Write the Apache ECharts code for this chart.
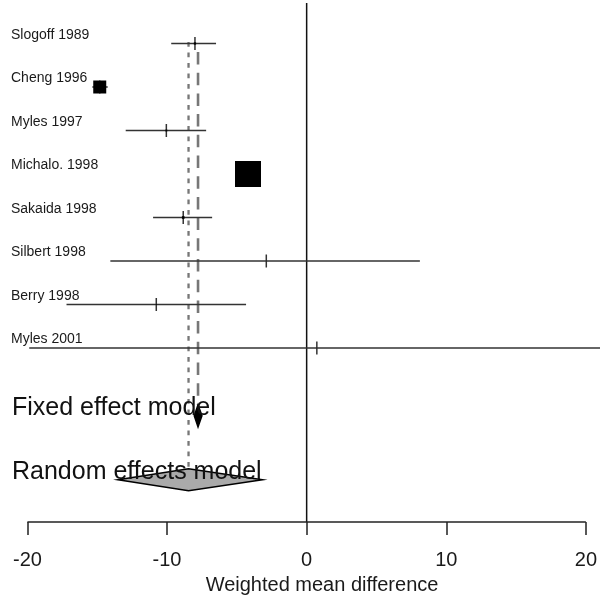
<!DOCTYPE html>
<html>
<head>
<meta charset="utf-8">
<script src="https://cdn.jsdelivr.net/npm/echarts@6/dist/echarts.min.js"></script>
<style>
html,body{margin:0;padding:0;background:#fff;}
#chart{width:600px;height:601px;}
</style>
</head>
<body>
<div id="chart"></div>
<script>
// ---- data ----
const studies = ["Slogoff 1989","Cheng 1996","Myles 1997","Michalo. 1998","Sakaida 1998","Silbert 1998","Berry 1998","Myles 2001"];
const means   = [-8.0, -14.82, -10.05, -4.2, -8.84, -2.89, -10.77, 0.73];
const lowers  = [-9.7, -15.35, -12.96, -4.9, -11.0, -14.06, -17.2, -19.87];
const uppers  = [-6.49, -14.25, -7.2, -3.5, -6.77, 8.11, -4.34, 21.3];
const weights = [0.6, 19.5, 0.4, 78, 0.8, 0.05, 0.1, 0.02];

const summaryNames  = ["Fixed effect model", "Random effects model"];
const summaryMeans  = [-7.78, -8.46];
const summaryLowers = [-8.05, -13.52];
const summaryUppers = [-7.5, -3.16];
const summaryRows   = [9.56, 11.03];

const xTicks = [-20, -10, 0, 10, 20];
const xTitle = "Weighted mean difference";

// ---- layout constants ----
const FONT = '"Liberation Sans", Arial, Helvetica, sans-serif';
const AXIS_ROW = 12;
const ZERO_TOP_ROW = 0.07;

const studyData = studies.map((n, i) => [means[i], i + 1, lowers[i], uppers[i], weights[i]]);
const summaryData = summaryNames.map((n, i) => [summaryMeans[i], summaryRows[i], summaryLowers[i], summaryUppers[i]]);

const chart = echarts.init(document.getElementById('chart'), null, {renderer: 'canvas'});

const option = {
  animation: false,
  backgroundColor: '#ffffff',
  title: {
    text: xTitle,
    left: 317,
    top: 570,
    textAlign: 'center',
    textStyle: {fontFamily: FONT, fontSize: 20, fontWeight: 'normal', color: '#1a1a1a'}
  },
  grid: {left: 0, right: 0, top: 0, height: 522, containLabel: false},
  xAxis: {
    type: 'value',
    position: 'bottom',
    min: -21.964,
    max: 20.893,
    axisLine: {show: false, onZero: false},
    splitLine: {show: false},
    axisTick: {show: true, customValues: xTicks, length: 13, lineStyle: {color: '#222', width: 1.5}},
    axisLabel: {show: true, customValues: xTicks, margin: 28, fontSize: 20, fontFamily: FONT, color: '#1a1a1a'}
  },
  yAxis: {
    type: 'value', inverse: true, min: 0, max: AXIS_ROW, show: false
  },
  series: [
    // fixed effect reference line (dashed)
    {
      type: 'custom',
      data: [[summaryMeans[0], summaryRows[0]]],
      renderItem: function (params, api) {
        const top = api.coord([api.value(0), 1]);
        const bot = api.coord([api.value(0), api.value(1)]);
        return {
          type: 'line',
          shape: {x1: top[0], y1: top[1] + 8.5, x2: bot[0], y2: bot[1] - 11},
          style: {stroke: '#777', lineWidth: 2.6, lineDash: [12.5, 8.2]}
        };
      },
      z: 1
    },
    // random effects reference line (dotted)
    {
      type: 'custom',
      data: [[summaryMeans[1], summaryRows[1]]],
      renderItem: function (params, api) {
        const top = api.coord([api.value(0), 1]);
        const bot = api.coord([api.value(0), api.value(1)]);
        return {
          type: 'line',
          shape: {x1: top[0], y1: top[1] - 1.5, x2: bot[0], y2: bot[1] - 11},
          style: {stroke: '#777', lineWidth: 2.3, lineDash: [4.7, 5.8]}
        };
      },
      z: 1
    },
    // zero line and x axis line
    {
      type: 'custom',
      data: [[0, ZERO_TOP_ROW]],
      renderItem: function (params, api) {
        const a = api.coord([0, api.value(1)]);
        const b = api.coord([0, AXIS_ROW]);
        const l = api.coord([xTicks[0], AXIS_ROW]);
        const r = api.coord([xTicks[xTicks.length - 1], AXIS_ROW]);
        return {
          type: 'group',
          children: [
            {type: 'line', shape: {x1: a[0], y1: a[1], x2: b[0], y2: b[1]}, style: {stroke: '#111', lineWidth: 1.5}},
            {type: 'line', shape: {x1: l[0], y1: l[1], x2: r[0], y2: r[1]}, style: {stroke: '#222', lineWidth: 1.5}}
          ]
        };
      },
      z: 2
    },
    // studies
    {
      type: 'custom',
      data: studyData,
      encode: {x: [0, 2, 3], y: 1},
      renderItem: function (params, api) {
        const m = api.value(0), r = api.value(1), lo = api.value(2), hi = api.value(3), w = api.value(4);
        const pM = api.coord([m, r]);
        const pL = api.coord([lo, r]);
        const pH = api.coord([hi, r]);
        const s = 2.944 * Math.sqrt(w);
        return {
          type: 'group',
          children: [
            {type: 'line', shape: {x1: pL[0], y1: pL[1], x2: pH[0], y2: pH[1]}, style: {stroke: '#333', lineWidth: 1.5}},
            {type: 'line', shape: {x1: pM[0], y1: pM[1] - 6.5, x2: pM[0], y2: pM[1] + 6.5}, style: {stroke: '#333', lineWidth: 1.5}},
            {type: 'rect', shape: {x: pM[0] - s / 2, y: pM[1] - s / 2, width: s, height: s}, style: {fill: '#000'}},
            {type: 'text', x: 11, y: pM[1] - 8.5,
             style: {text: studies[params.dataIndex], font: '14px ' + FONT, fill: '#1a1a1a', textAlign: 'left', textVerticalAlign: 'middle'}}
          ]
        };
      },
      z: 3
    },
    // summary diamonds
    {
      type: 'custom',
      data: summaryData,
      encode: {x: [0, 2, 3], y: 1},
      renderItem: function (params, api) {
        const m = api.value(0), r = api.value(1), lo = api.value(2), hi = api.value(3);
        const pM = api.coord([m, r]);
        const pL = api.coord([lo, r]);
        const pH = api.coord([hi, r]);
        const h = 11;
        const narrow = (pH[0] - pL[0]) < 12;
        return {
          type: 'group',
          children: [
            {type: 'polygon', shape: {points: [[pL[0], pL[1]], [pM[0], pM[1] - h], [pH[0], pH[1]], [pM[0], pM[1] + h]]},
             style: {fill: narrow ? '#000' : '#aaaaaa', stroke: '#000', lineWidth: 1.5}},
            {type: 'text', x: 12, y: pM[1] - 8,
             style: {text: summaryNames[params.dataIndex], font: '25px ' + FONT, fill: '#111', textAlign: 'left', textVerticalAlign: 'middle'}}
          ]
        };
      },
      z: 4
    }
  ]
};
chart.setOption(option);
</script>
</body>
</html>
